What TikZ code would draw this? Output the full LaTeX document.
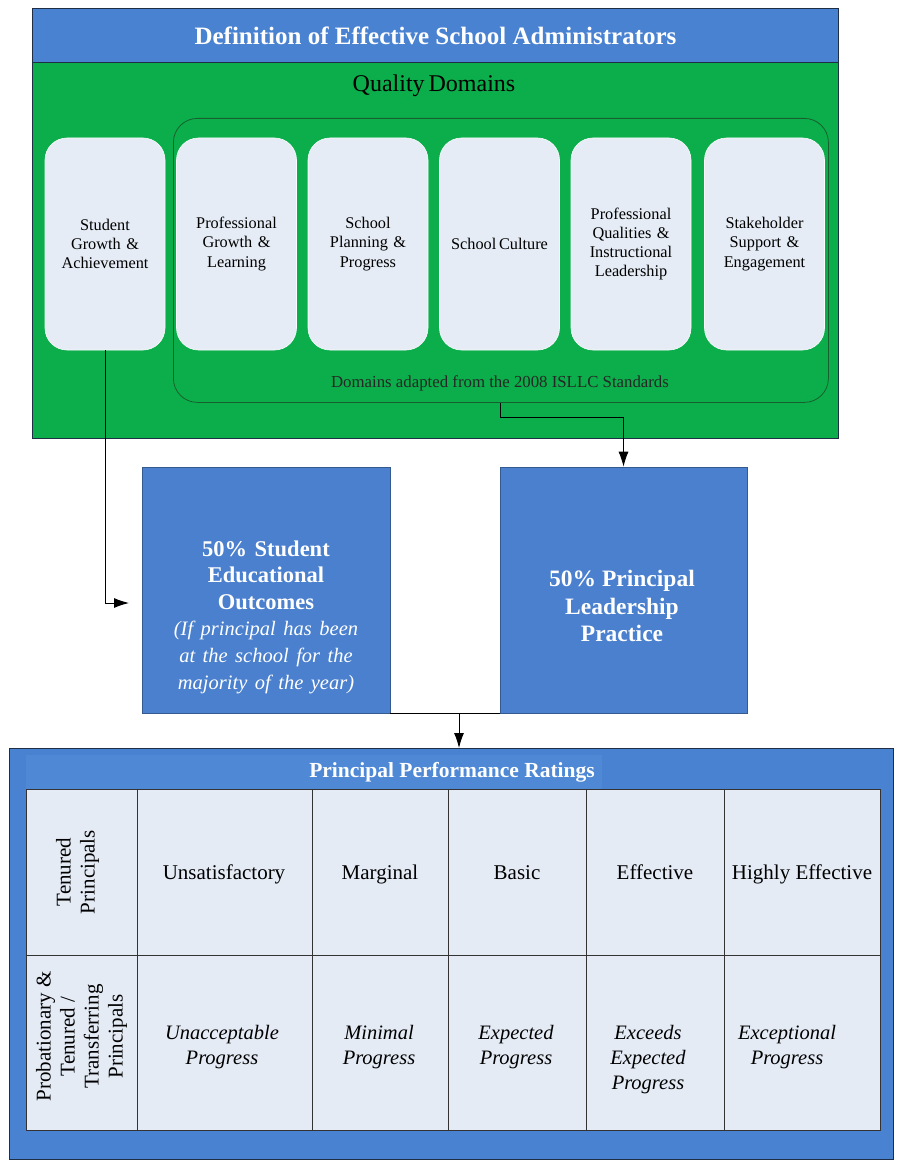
\documentclass[tikz,border=0pt]{standalone}
\usepackage{fontspec}
\setmainfont{Liberation Serif}
\usetikzlibrary{arrows.meta}
\definecolor{hdrblue}{HTML}{4A82D2}
\definecolor{bandblue}{HTML}{4F89D6}
\definecolor{boxblue}{HTML}{4A80CE}
\definecolor{qgreen}{HTML}{0BAE4A}
\definecolor{framegreen}{HTML}{17602E}
\definecolor{domfill}{HTML}{E5ECF5}
\definecolor{cellfill}{HTML}{E4EBF5}
\definecolor{darkline}{HTML}{1E2F45}
\tikzset{
  dombox/.style={fill=domfill, draw=white!85!domfill, line width=0.6pt, rounded corners=22pt,
    minimum width=120pt, minimum height=212pt, inner sep=0pt, text width=114pt, align=center,
    font=\fontsize{16.3}{19.2}\selectfont},
  bluebox/.style={fill=boxblue, draw=boxblue!70!black, line width=0.6pt, minimum width=248pt,
    minimum height=246pt, inner sep=0pt},
  whitetxt/.style={text=white, align=center, inner sep=0pt},
  tcell/.style={fill=cellfill, draw=black!80, line width=0.7pt, inner sep=0pt},
  celltxt/.style={align=center, inner sep=0pt, font=\fontsize{21}{25}\selectfont},
  celltxti/.style={align=center, inner sep=0pt, font=\fontsize{20.5}{25}\selectfont\itshape},
  rowlab/.style={align=center, inner sep=0pt, rotate=90, font=\fontsize{21}{24}\selectfont},
  conn/.style={draw=black, line width=0.9pt},
  arr/.style={conn, -{Latex[length=15pt,width=10pt]}}
}
\begin{document}
\begin{tikzpicture}[x=1pt,y=-1pt]
\useasboundingbox (0,0) rectangle (899,1161);
\fill[white] (0,0) rectangle (899,1161);

% ---- top box
\node[fill=qgreen, draw=darkline, line width=1pt, minimum width=806pt, minimum height=430pt,
  anchor=north west, inner sep=0pt] (topbox) at (32,8) {};
\node[fill=hdrblue, draw=darkline, line width=1pt, minimum width=806pt, minimum height=54pt,
  anchor=north west, inner sep=0pt, text=white, font=\fontsize{25}{28}\selectfont\bfseries] (hdr) at (32,8)
  {Definition of Effective School Administrators};
\node[inner sep=0pt, font=\fontsize{24}{26}\selectfont] (qd) at (434,86) {Quality\,Domains};

\node[draw=framegreen, line width=0.8pt, rounded corners=24pt, minimum width=655pt,
  minimum height=284pt, anchor=north west, inner sep=0pt] (frame) at (173,118) {};
\node[inner sep=0pt, font=\fontsize{16.8}{19}\selectfont, text=black!85] (adapt) at (500,383)
  {Domains adapted from the 2008 ISLLC Standards};

\node[dombox] (d1) at (105,244) {Student\\Growth \&\\Achievement};
\node[dombox] (d2) at (236.5,244) {Professional\\Growth \&\\Learning};
\node[dombox] (d3) at (368,244) {School\\Planning \&\\Progress};
\node[dombox] (d4) at (499.5,244) {School\,Culture};
\node[dombox] (d5) at (631,244) {Professional\\Qualities \&\\Instructional\\Leadership};
\node[dombox] (d6) at (764.5,244) {Stakeholder\\Support \&\\Engagement};

% ---- middle boxes
\node[bluebox] (s50) at (266,590) {};
\node[bluebox, minimum width=247pt] (p50) at (623.5,590) {};
\node[whitetxt, text width=244pt, font=\fontsize{22.5}{26.6}\selectfont] (s50txt) at (266,617)
  {{\bfseries 50\% Student\\Educational\\Outcomes}\\{\itshape\fontsize{20.5}{26.6}\selectfont (If principal has been\\at the school for the\\majority of the year)}};
\node[whitetxt, font=\fontsize{23.5}{27.5}\selectfont\bfseries] (p50txt) at (622,606)
  {50\% Principal\\Leadership\\Practice};

% ---- connectors
\coordinate (a1end) at (129,603);
\draw[arr] (d1.south) |- (a1end);
\draw[arr] (frame.south) -- ++(0,15) -| (p50.north);
\draw[conn] (s50.south east) -- (p50.south west);
\coordinate (mid) at (459,713);

% ---- ratings box
\node[fill=hdrblue, draw=darkline, line width=1.2pt, minimum width=884pt, minimum height=411pt,
  anchor=north west, inner sep=0pt] (rating) at (9,748) {};
\fill[bandblue] (26,755) rectangle (602,789);
\draw[arr] (mid) -- (mid |- rating.north);
\node[inner sep=0pt, text=white, font=\fontsize{21.5}{24}\selectfont\bfseries] (rtitle) at (452,772)
  {Principal Performance Ratings};

% cells
\foreach \name/\xa/\xb in {c0/26/137, c1/137/312, c2/312/448, c3/448/586, c4/586/724, c5/724/880}{
  \node[tcell, minimum width=\xb-\xa, minimum height=166pt] (\name r1) at ({(\xa+\xb)/2},872) {};
  \node[tcell, minimum width=\xb-\xa, minimum height=175pt] (\name r2) at ({(\xa+\xb)/2},1042.5) {};
}
\node[rowlab] (lab1) at ([xshift=-4pt]c0r1.center) {Tenured\\Principals};
\node[rowlab] (lab2) at ([yshift=6pt]c0r2.center) {Probationary \&\\Tenured /\\Transferring\\Principals};

\node[celltxt, anchor=base] (t1) at (224,879) {Unsatisfactory};
\node[celltxt, anchor=base] (t2) at (380,879) {Marginal};
\node[celltxt, anchor=base] (t3) at (517,879) {Basic};
\node[celltxt, anchor=base] (t4) at (655,879) {Effective};
\node[celltxt, anchor=base] (t5) at (802,879) {Highly Effective};

\node[celltxti, anchor=north] (u1) at (222,1025) {Unacceptable\\Progress};
\node[celltxti, anchor=north] (u2) at (379,1025) {Minimal\\Progress};
\node[celltxti, anchor=north] (u3) at (516,1025) {Expected\\Progress};
\node[celltxti, anchor=north] (u4) at (648,1025) {Exceeds\\Expected\\Progress};
\node[celltxti, anchor=north] (u5) at (787,1025) {Exceptional\\Progress};
\end{tikzpicture}
\end{document}
